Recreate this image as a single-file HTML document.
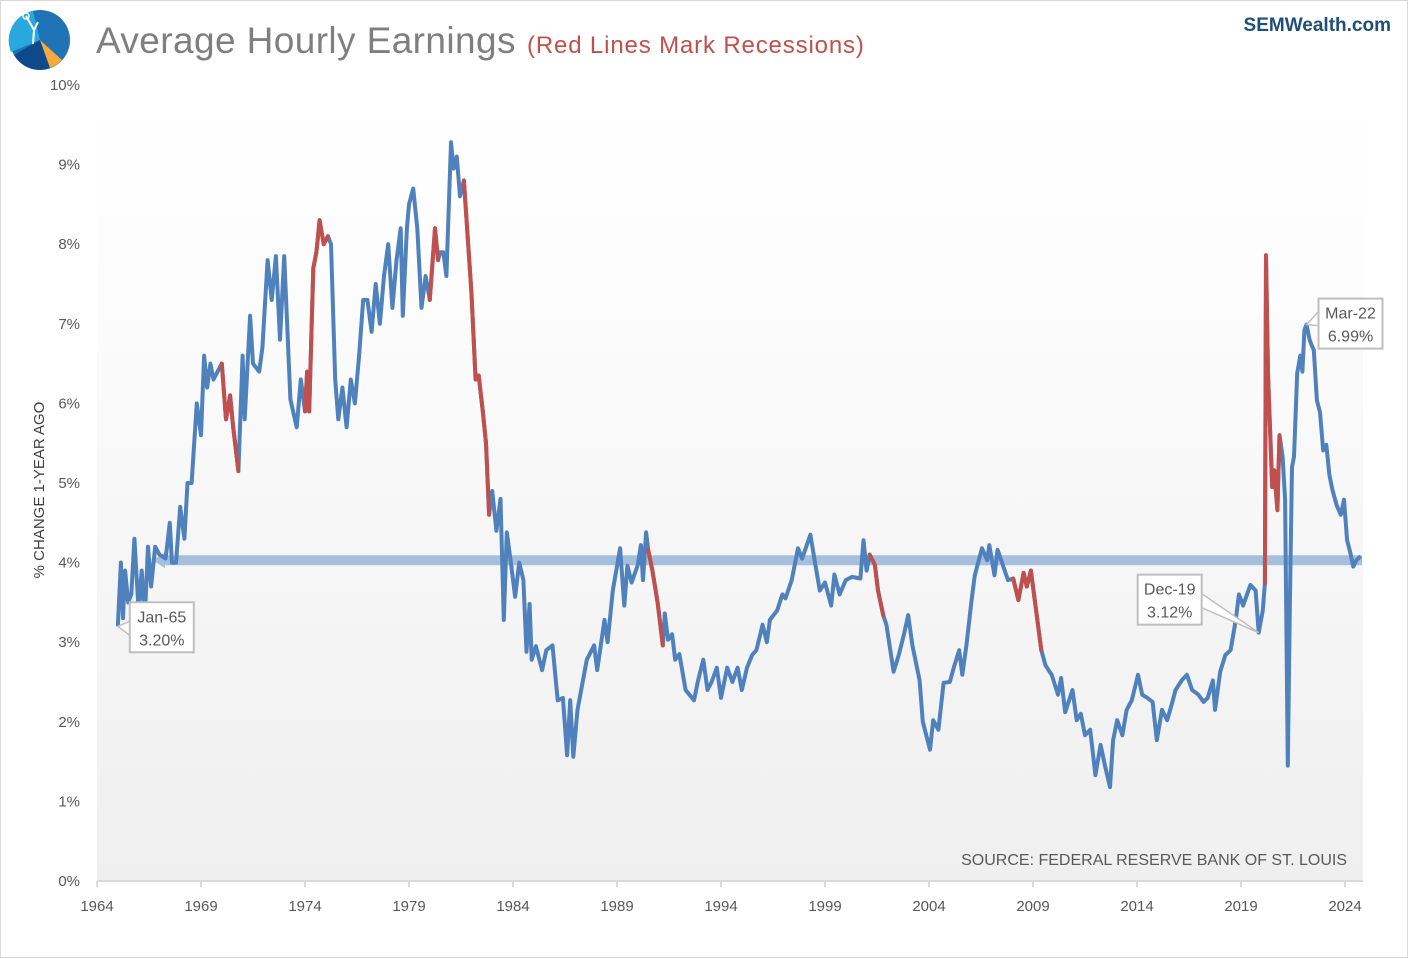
<!DOCTYPE html>
<html><head><meta charset="utf-8">
<style>
body{margin:0;background:#fff;}
#wrap{position:relative;width:1408px;height:958px;overflow:hidden;font-family:"Liberation Sans",sans-serif;}
</style></head>
<body>
<div id="wrap">
<svg id="chart" width="1408" height="958" viewBox="0 0 1408 958" xmlns="http://www.w3.org/2000/svg">
<defs>
<linearGradient id="bg" x1="0" y1="0" x2="0" y2="1">
<stop offset="0" stop-color="#ffffff"/>
<stop offset="0.2" stop-color="#fdfdfd"/>
<stop offset="1" stop-color="#efefef"/>
</linearGradient>
</defs>
<rect x="0.5" y="0.5" width="1407" height="957" fill="#fff" stroke="#d9d9d9"/>
<rect x="97" y="85" width="1266" height="796" fill="url(#bg)"/>
<g>
<circle cx="40" cy="40" r="30" fill="#1f73b7"/>
<path d="M40 40 L11 52 A30 30 0 0 1 33 11 Z" fill="#29a8e0"/>
<path d="M40 40 L62 60 A30 30 0 0 1 14 55 Z" fill="#0c4a8a"/>
<path d="M40 40 L62 60 A30 30 0 0 1 50 68 Z" fill="#f7a93b"/>
<path d="M26 16 L34 30 L33 44 M34 30 L38 22" stroke="#fff" stroke-width="2" fill="none"/>
<circle cx="26" cy="16" r="3" fill="none" stroke="#fff" stroke-width="1.5"/>
</g>
<text x="96" y="53" font-size="37" letter-spacing="0.4" fill="#7f7f7f">Average Hourly Earnings</text>
<text x="527" y="53" font-size="24" letter-spacing="0.85" fill="#c0504d">(Red Lines Mark Recessions)</text>
<text x="1391" y="31" font-size="19" font-weight="bold" fill="#1f4e79" text-anchor="end">SEMWealth.com</text>
<text transform="translate(44,490) rotate(-90)" font-size="15" fill="#404040" text-anchor="middle">% CHANGE 1-YEAR AGO</text>
<g id="yticks"></g>
<g id="xticks"></g>
<line x1="97" y1="881" x2="1363" y2="881" stroke="#d9d9d9" stroke-width="2"/>
<g id="band"></g>
<g id="series"></g>
<g id="notes"></g>
<text x="1347" y="865" font-size="16" fill="#595959" text-anchor="end">SOURCE:  FEDERAL RESERVE BANK OF ST. LOUIS</text>
</svg>
</div>
<script>
const years = [1965.0,1965.15,1965.25,1965.35,1965.5,1965.65,1965.8,1966.0,1966.15,1966.3,1966.45,1966.6,1966.8,1967.0,1967.3,1967.5,1967.6,1967.8,1968.0,1968.2,1968.35,1968.55,1968.8,1969.0,1969.15,1969.3,1969.45,1969.6,1969.8,1970.0,1970.2,1970.4,1970.55,1970.8,
1971.0,1971.1,1971.36,1971.5,1971.8,1971.95,1972.2,1972.4,1972.6,1972.8,1973.0,1973.3,1973.6,1973.8,1974.0,1974.1,1974.2,1974.4,1974.55,1974.7,1974.9,1975.1,1975.25,1975.45,1975.6,1975.8,1976.0,1976.2,1976.4,1976.6,1976.8,1977.0,1977.2,1977.4,1977.6,1977.8,1978.0,1978.2,1978.4,1978.6,1978.7,1978.9,1979.0,1979.2,1979.4,1979.6,1979.8,1980.0,1980.25,1980.4,1980.5,1980.65,1980.8,1981.02,1981.15,1981.3,1981.45,1981.64,1982.0,1982.2,1982.35,1982.55,1982.7,1982.85,
1983.0,1983.2,1983.4,1983.56,1983.7,1983.9,1984.1,1984.3,1984.5,1984.65,1984.8,1984.9,1985.1,1985.4,1985.6,1985.9,1986.15,1986.4,1986.6,1986.75,1986.9,1987.1,1987.55,1987.9,1988.05,1988.4,1988.55,1988.8,1989.15,1989.35,1989.5,1989.7,1990.0,1990.15,1990.25,1990.4,1990.5,1990.7,1990.95,1991.2,1991.3,1991.45,1991.65,1991.8,1992.0,1992.3,1992.7,1992.9,1993.15,1993.35,1993.55,1993.8,1994.0,1994.3,1994.55,1994.8,1995.0,1995.25,1995.5,1995.7,1996.0,1996.2,1996.35,1996.7,1996.95,1997.1,1997.4,1997.7,1997.9,1998.3,1998.5,1998.75,1999.0,1999.3,1999.45,1999.7,2000.0,2000.3,2000.7,2000.85,2001.0,2001.15,2001.4,2001.55,2001.8,2001.95,2002.3,2002.55,2002.8,2003.0,2003.2,2003.55,2003.7,2004.05,2004.2,2004.45,2004.7,2005.0,2005.2,2005.45,2005.6,2005.8,2006.05,2006.2,2006.55,2006.8,2006.9,2007.15,2007.3,2007.55,2007.8,2008.05,2008.3,2008.55,2008.7,2008.9,2009.15,2009.4,2009.6,2009.9,2010.2,2010.35,2010.55,2010.9,2011.1,2011.3,2011.5,2011.75,2012.0,2012.25,2012.45,2012.7,2012.85,2013.05,2013.3,2013.5,2013.75,2014.05,2014.25,2014.5,2014.75,2014.95,2015.2,2015.45,2015.7,2015.85,2016.15,2016.4,2016.65,2016.95,2017.2,2017.4,2017.65,2017.75,2018.0,2018.25,2018.5,2018.75,2018.9,2019.1,2019.45,2019.7,2019.85,2020.05,2020.15,2020.2,2020.3,2020.5,2020.6,2020.75,2020.85,2021.0,2021.12,2021.25,2021.35,2021.45,2021.55,2021.7,2021.85,2021.95,2022.05,2022.15,2022.3,2022.4,2022.5,2022.65,2022.8,2022.95,2023.1,2023.25,2023.4,2023.6,2023.8,2023.95,2024.1,2024.25,2024.4,2024.55,2024.75];
const values = [3.2,4.0,3.3,3.9,3.5,3.6,4.3,3.4,3.9,3.3,4.2,3.7,4.2,4.1,4.05,4.5,4.0,4.0,4.7,4.3,5.0,5.0,6.0,5.6,6.6,6.2,6.5,6.3,6.4,6.5,5.8,6.1,5.7,5.15,
6.6,5.8,7.1,6.5,6.4,6.7,7.8,7.3,7.85,6.8,7.85,6.05,5.7,6.3,5.9,6.4,5.9,7.7,7.9,8.3,8.0,8.1,8.0,6.3,5.8,6.2,5.7,6.3,6.0,6.6,7.3,7.3,6.9,7.5,7.0,7.6,8.0,7.2,7.8,8.2,7.1,8.2,8.5,8.7,8.2,7.2,7.6,7.3,8.2,7.8,7.9,7.9,7.6,9.28,8.95,9.1,8.6,8.8,7.4,6.3,6.35,5.9,5.5,4.6,
4.9,4.4,4.8,3.28,4.38,4.0,3.57,4.0,3.78,2.88,3.48,2.78,2.95,2.65,2.9,2.96,2.27,2.3,1.58,2.27,1.56,2.15,2.78,2.96,2.65,3.28,3.0,3.65,4.18,3.46,3.96,3.75,3.97,4.22,3.78,4.38,4.16,3.9,3.5,2.96,3.36,3.03,3.1,2.78,2.85,2.4,2.27,2.52,2.78,2.4,2.5,2.68,2.3,2.68,2.5,2.68,2.4,2.68,2.84,2.9,3.22,3.0,3.28,3.4,3.6,3.55,3.78,4.18,4.05,4.35,4.03,3.65,3.75,3.46,3.85,3.6,3.78,3.82,3.8,4.28,3.9,4.1,3.97,3.65,3.34,3.22,2.63,2.84,3.1,3.34,2.96,2.52,2.0,1.65,2.02,1.9,2.49,2.5,2.69,2.9,2.59,2.96,3.53,3.84,4.18,4.03,4.22,3.84,4.16,3.97,3.78,3.8,3.53,3.87,3.7,3.9,3.4,2.9,2.71,2.59,2.34,2.55,2.12,2.4,2.02,2.1,1.83,1.9,1.33,1.71,1.46,1.18,1.77,2.02,1.83,2.15,2.27,2.59,2.34,2.3,2.25,1.77,2.15,2.02,2.25,2.4,2.52,2.59,2.4,2.34,2.25,2.3,2.52,2.15,2.63,2.84,2.9,3.28,3.6,3.46,3.72,3.65,3.12,3.4,3.74,7.86,6.38,4.95,5.16,4.66,5.6,5.33,4.79,1.45,3.5,5.2,5.33,6.38,6.6,6.4,6.92,6.99,6.8,6.73,6.67,6.04,5.89,5.41,5.48,5.1,4.91,4.72,4.6,4.79,4.28,4.13,3.95,4.03,4.08];
const recessionStarts = [1969.95,1973.95,1979.95,1981.6,1990.5,2001.1,2007.95,2020.1];
const recessionEnds   = [1970.85,1975.15,1980.45,1982.9,1991.2,2001.85,2009.45,2020.85];
const yTickValues = [0,1,2,3,4,5,6,7,8,9,10];
const xTickYears = [1964,1969,1974,1979,1984,1989,1994,1999,2004,2009,2014,2019,2024];
const referenceLevel = 4.03;
const callouts = [
  {label:"Jan-65", value:"3.20%", year:1965.0, v:3.2},
  {label:"Dec-19", value:"3.12%", year:2019.85, v:3.12},
  {label:"Mar-22", value:"6.99%", year:2022.15, v:6.99}
];

const NS = "http://www.w3.org/2000/svg";
const X0 = 97, PX_PER_YEAR = 20.8, Y0 = 881, PX_PER_PCT = 79.6;
function xs(yr){ return X0 + (yr - 1964) * PX_PER_YEAR; }
function ys(v){ return Y0 - v * PX_PER_PCT; }
function mk(tag, attrs, parent){ const e = document.createElementNS(NS, tag); for (const k in attrs) e.setAttribute(k, attrs[k]); parent.appendChild(e); return e; }

const yg = document.getElementById('yticks');
yTickValues.forEach(v => {
  const t = mk('text', {x: 80, y: ys(v) + 5, 'font-size': 15, fill: '#595959', 'text-anchor': 'end'}, yg);
  
  
  t.textContent = v + '%';
});
const xg = document.getElementById('xticks');
xTickYears.forEach(yr => {
  const l = mk('line', {x1: xs(yr), x2: xs(yr), y1: 881, y2: 887, stroke: '#d9d9d9', 'stroke-width': 2}, xg);
  
  
  const t = mk('text', {x: xs(yr), y: 911, 'font-size': 15, fill: '#595959', 'text-anchor': 'middle'}, xg);
  
  
  t.textContent = yr;
});

const bg = document.getElementById('band');
const bandY = ys(referenceLevel);
const band = mk('line', {x1: 163, x2: 1362, y1: bandY, y2: bandY, stroke: '#a6bfdc', 'stroke-width': 10}, bg);


const ah = mk('path', {d: `M153 ${bandY} L165 ${bandY-8} L165 ${bandY+8} Z`, fill: '#a6bfdc'}, bg);



function inRec(yr){ for (let i=0;i<recessionStarts.length;i++) if (yr >= recessionStarts[i]-0.001 && yr <= recessionEnds[i]+0.001) return true; return false; }
const sg = document.getElementById('series');
let d = '';
years.forEach((yr,i) => { d += (i ? 'L' : 'M') + xs(yr).toFixed(1) + ' ' + ys(values[i]).toFixed(1); });
const line = mk('path', {d: d, fill: 'none', stroke: '#4f81bd', 'stroke-width': 4, 'stroke-linejoin': 'round'}, sg);


let rd = '';
for (let i=1;i<years.length;i++){
  if (inRec(years[i-1]) && inRec(years[i])) rd += 'M' + xs(years[i-1]).toFixed(1) + ' ' + ys(values[i-1]).toFixed(1) + 'L' + xs(years[i]).toFixed(1) + ' ' + ys(values[i]).toFixed(1);
}
const rl = mk('path', {d: rd, fill: 'none', stroke: '#c0504d', 'stroke-width': 4, 'stroke-linejoin': 'round', 'stroke-linecap': 'round'}, sg);



const boxOffsets = [[12, -24], [-121, -58], [12, -26]];
const ng = document.getElementById('notes');
callouts.forEach((c, i) => {
  const px = xs(c.year), py = ys(c.v);
  const bx = px + boxOffsets[i][0], by = py + boxOffsets[i][1];
  const g = mk('g', {}, ng);
  
  
  const cx = bx + (i === 1 ? 64 : 0), cy = by + (i === 2 ? 20 : 26);
  mk('path', {d: `M${px} ${py} L${cx} ${cy-7} L${cx} ${cy+7} Z`, fill: '#fff', stroke: '#bfbfbf', 'stroke-width': 1.5}, g);
  mk('rect', {x: bx, y: by, width: 64, height: 50, fill: '#fff', stroke: '#bfbfbf', 'stroke-width': 2}, g);
  const t1 = mk('text', {x: bx + 32, y: by + 20, 'font-size': 16, fill: '#595959', 'text-anchor': 'middle'}, g);
  t1.textContent = c.label;
  const t2 = mk('text', {x: bx + 32, y: by + 43, 'font-size': 16, fill: '#595959', 'text-anchor': 'middle'}, g);
  t2.textContent = c.value;
});
</script>
</body></html>
